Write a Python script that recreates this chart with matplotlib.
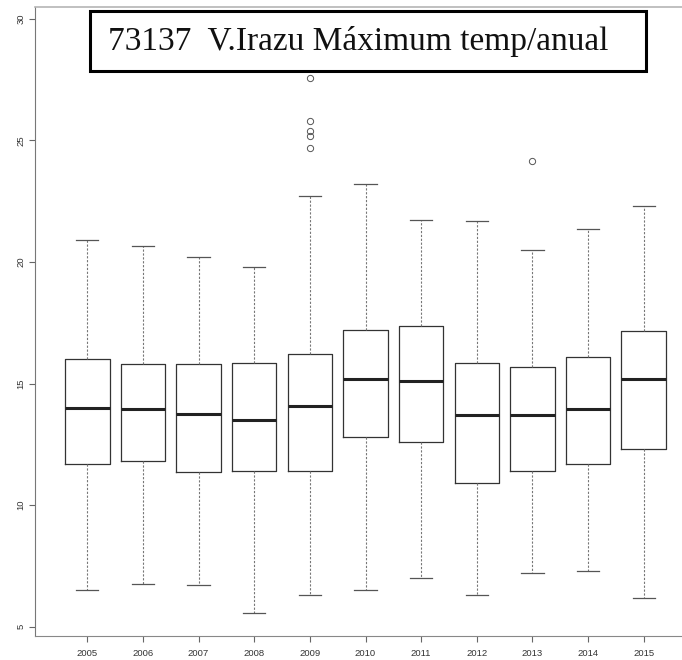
import matplotlib
matplotlib.use("Agg")
import matplotlib.pyplot as plt
from matplotlib.patches import Rectangle

# yearly maximum temperature, station 73137 V.Irazu
years = ["2005", "2006", "2007", "2008", "2009", "2010",
         "2011", "2012", "2013", "2014", "2015"]
whisker_lo = [6.5, 6.75, 6.7, 5.55, 6.3, 6.5, 7.0, 6.3, 7.2, 7.3, 6.2]
q1 = [11.7, 11.8, 11.35, 11.4, 11.4, 12.8, 12.6, 10.9, 11.4, 11.7, 12.3]
median = [14.0, 13.95, 13.75, 13.5, 14.1, 15.2, 15.1, 13.7, 13.7, 13.95, 15.2]
q3 = [16.0, 15.8, 15.8, 15.85, 16.2, 17.2, 17.35, 15.85, 15.7, 16.1, 17.15]
whisker_hi = [20.9, 20.65, 20.2, 19.8, 22.7, 23.2, 21.75, 21.7, 20.5, 21.35, 22.3]
outliers = [[], [], [], [], [24.7, 25.2, 25.4, 25.8, 27.55],
            [], [], [], [24.15], [], []]

stats = []
for i in range(len(years)):
    stats.append(dict(label=years[i], whislo=whisker_lo[i], q1=q1[i],
                      med=median[i], q3=q3[i], whishi=whisker_hi[i],
                      fliers=outliers[i]))

plt.rcParams['font.family'] = ['Liberation Sans', 'DejaVu Sans']

fig = plt.figure(figsize=(6.82, 6.6), dpi=100)
ax = fig.add_axes([35 / 682, 1 - 636 / 660, 661 / 682, 629 / 660])

ax.bxp(stats, positions=range(1, len(years) + 1), widths=0.8,
       boxprops=dict(color='#333333', linewidth=0.9),
       medianprops=dict(color='#222222', linewidth=2.2),
       whiskerprops=dict(color='#777777', linewidth=0.8, linestyle=(0, (2, 1.5))),
       capprops=dict(color='#555555', linewidth=0.9),
       flierprops=dict(marker='o', markersize=4.5, markerfacecolor='none',
                       markeredgecolor='#555555', markeredgewidth=0.7),
       capwidths=0.4)

ax.set_xlim(0.06, 11.94)
ax.set_ylim(4.62, 30.49)
ax.set_yticks([5, 10, 15, 20, 25, 30])
ax.set_yticklabels(['5', '10', '15', '20', '25', '30'], rotation=90, va='center')
ax.set_xticks(range(1, len(years) + 1))
ax.set_xticklabels(years)
ax.tick_params(axis='both', labelsize=6.8, colors='#666666', labelcolor='#333333',
               length=4, width=0.8)
ax.tick_params(axis='x', pad=5)
ax.tick_params(axis='y', pad=3)

ax.spines['left'].set_color('#777777')
ax.spines['bottom'].set_color('#888888')
ax.spines['top'].set_color('#b5b5b5')
ax.spines['top'].set_linewidth(1.2)
ax.spines['right'].set_visible(False)

# title frame drawn over the plot
fig.patches.append(Rectangle((90 / 682, 1 - 71 / 660), 556 / 682, 60 / 660,
                             transform=fig.transFigure, facecolor='white',
                             edgecolor='black', linewidth=2.2, zorder=5))
fig.text(108 / 682, 1 - 50 / 660, "73137  V.Irazu Máximum temp/anual",
         family='Liberation Serif', fontsize=24, color='#111111',
         va='baseline', ha='left', zorder=6)

fig.savefig("out.png", dpi=100)
